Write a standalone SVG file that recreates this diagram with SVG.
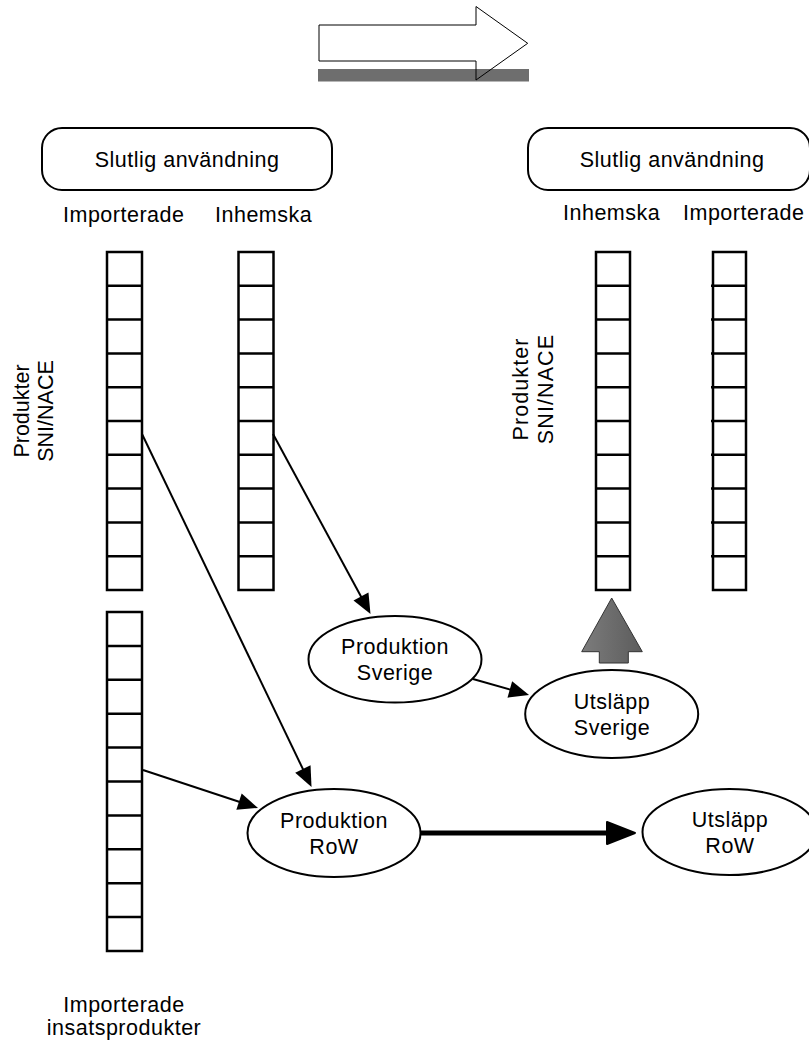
<svg xmlns="http://www.w3.org/2000/svg" width="809" height="1043" viewBox="0 0 809 1043">
<style>
text{font-family:"Liberation Sans",Arial,sans-serif;font-size:21.5px;letter-spacing:0.5px;fill:#000}
.mid{text-anchor:middle}
.col rect{fill:#fff;stroke:#000;stroke-width:2.5}
.col line{stroke:#000;stroke-width:2.5}
.box{fill:#fff;stroke:#000;stroke-width:2}
.ell{fill:#fff;stroke:#000;stroke-width:2}
.conn{stroke:#000;stroke-width:2;fill:none}
</style>
<defs>
<marker id="ah" markerUnits="userSpaceOnUse" markerWidth="22" markerHeight="19" refX="16" refY="8.5" orient="auto" overflow="visible">
<path d="M0,0 L20,8.5 L0,17 Z" fill="#000"/>
</marker>
<marker id="ahThick" markerUnits="userSpaceOnUse" markerWidth="30" markerHeight="24" refX="18" refY="11" orient="auto" overflow="visible">
<path d="M0,0 L28,11 L0,22 Z" fill="#000" stroke="#000" stroke-width="2" stroke-linejoin="round"/>
</marker>
<linearGradient id="grey" x1="0" y1="0" x2="1" y2="0">
<stop offset="0" stop-color="#7c7c7c"/>
<stop offset="1" stop-color="#5c5c5c"/>
</linearGradient>
</defs>

<g id="top-arrow">
<rect x="318" y="69" width="211" height="12.5" fill="#6e6e6e"/>
<path d="M319,25 L476,25 L476,6.5 L527.7,43.3 L476,80 L476,61 L319,61 Z" fill="none" stroke="#000" stroke-width="1"/>
</g>

<g id="slutlig-left">
<rect class="box" x="42" y="128" width="290" height="62" rx="20" ry="20"/>
<text class="mid" x="187" y="167">Slutlig användning</text>
</g>
<g id="slutlig-right">
<rect class="box" x="528" y="128" width="282" height="62" rx="20" ry="20"/>
<text class="mid" x="672" y="167">Slutlig användning</text>
</g>

<g id="labels">
<text x="63" y="222">Importerade</text>
<text x="215" y="222">Inhemska</text>
<text x="563" y="220">Inhemska</text>
<text x="683" y="220">Importerade</text>
<text class="mid" transform="translate(28.5,411) rotate(-90)" style="letter-spacing:0">Produkter</text>
<text class="mid" transform="translate(53,411) rotate(-90)" style="letter-spacing:0">SNI/NACE</text>
<text class="mid" transform="translate(528,389) rotate(-90)" style="letter-spacing:1.1px">Produkter</text>
<text class="mid" transform="translate(553,389) rotate(-90)" style="letter-spacing:1.1px">SNI/NACE</text>
<text class="mid" x="124" y="1012">Importerade</text>
<text class="mid" x="124" y="1035">insatsprodukter</text>
</g>

<g id="col-imp-left" class="col">
<rect x="107" y="252" width="35" height="338"/>
<line x1="107" y1="285.8" x2="142" y2="285.8"/><line x1="107" y1="319.6" x2="142" y2="319.6"/><line x1="107" y1="353.4" x2="142" y2="353.4"/><line x1="107" y1="387.2" x2="142" y2="387.2"/><line x1="107" y1="421" x2="142" y2="421"/><line x1="107" y1="454.8" x2="142" y2="454.8"/><line x1="107" y1="488.6" x2="142" y2="488.6"/><line x1="107" y1="522.4" x2="142" y2="522.4"/><line x1="107" y1="556.2" x2="142" y2="556.2"/>
</g>
<g id="col-inh-left" class="col">
<rect x="238.5" y="252" width="35" height="338"/>
<line x1="238.5" y1="285.8" x2="273.5" y2="285.8"/><line x1="238.5" y1="319.6" x2="273.5" y2="319.6"/><line x1="238.5" y1="353.4" x2="273.5" y2="353.4"/><line x1="238.5" y1="387.2" x2="273.5" y2="387.2"/><line x1="238.5" y1="421" x2="273.5" y2="421"/><line x1="238.5" y1="454.8" x2="273.5" y2="454.8"/><line x1="238.5" y1="488.6" x2="273.5" y2="488.6"/><line x1="238.5" y1="522.4" x2="273.5" y2="522.4"/><line x1="238.5" y1="556.2" x2="273.5" y2="556.2"/>
</g>
<g id="col-insats" class="col">
<rect x="107" y="612" width="35" height="339"/>
<line x1="107" y1="645.9" x2="142" y2="645.9"/><line x1="107" y1="679.8" x2="142" y2="679.8"/><line x1="107" y1="713.7" x2="142" y2="713.7"/><line x1="107" y1="747.6" x2="142" y2="747.6"/><line x1="107" y1="781.5" x2="142" y2="781.5"/><line x1="107" y1="815.4" x2="142" y2="815.4"/><line x1="107" y1="849.3" x2="142" y2="849.3"/><line x1="107" y1="883.2" x2="142" y2="883.2"/><line x1="107" y1="917.1" x2="142" y2="917.1"/>
</g>
<g id="col-inh-right" class="col">
<rect x="596" y="252" width="34" height="338"/>
<line x1="596" y1="285.8" x2="630" y2="285.8"/><line x1="596" y1="319.6" x2="630" y2="319.6"/><line x1="596" y1="353.4" x2="630" y2="353.4"/><line x1="596" y1="387.2" x2="630" y2="387.2"/><line x1="596" y1="421" x2="630" y2="421"/><line x1="596" y1="454.8" x2="630" y2="454.8"/><line x1="596" y1="488.6" x2="630" y2="488.6"/><line x1="596" y1="522.4" x2="630" y2="522.4"/><line x1="596" y1="556.2" x2="630" y2="556.2"/>
</g>
<g id="col-imp-right" class="col">
<rect x="713" y="252" width="33" height="338"/>
<line x1="711" y1="285.8" x2="746" y2="285.8"/><line x1="711" y1="319.6" x2="746" y2="319.6"/><line x1="711" y1="353.4" x2="746" y2="353.4"/><line x1="711" y1="387.2" x2="746" y2="387.2"/><line x1="711" y1="421" x2="746" y2="421"/><line x1="711" y1="454.8" x2="746" y2="454.8"/><line x1="711" y1="488.6" x2="746" y2="488.6"/><line x1="711" y1="522.4" x2="746" y2="522.4"/><line x1="711" y1="556.2" x2="746" y2="556.2"/>
</g>

<g id="grey-arrow">
<path d="M611.7,598 L642.3,651.7 L628.3,651.7 L628.3,663 L599.3,663 L599.3,651.7 L581.7,651.7 Z" fill="url(#grey)" stroke="#333" stroke-width="1"/>
</g>

<g id="prod-sverige">
<ellipse class="ell" cx="395" cy="659.3" rx="86.5" ry="43.3"/>
<text class="mid" x="395" y="654">Produktion</text>
<text class="mid" x="395" y="680">Sverige</text>
</g>
<g id="utslapp-sverige">
<ellipse class="ell" cx="611.7" cy="714" rx="86.5" ry="44"/>
<text class="mid" x="612" y="709">Utsläpp</text>
<text class="mid" x="612" y="735">Sverige</text>
</g>
<g id="prod-row">
<ellipse class="ell" cx="334" cy="833" rx="86.5" ry="44"/>
<text class="mid" x="334" y="828">Produktion</text>
<text class="mid" x="334" y="854">RoW</text>
</g>
<g id="utslapp-row">
<ellipse class="ell" cx="729.5" cy="832" rx="87" ry="43"/>
<text class="mid" x="730" y="827">Utsläpp</text>
<text class="mid" x="730" y="853">RoW</text>
</g>

<g id="connectors">
<path class="conn" d="M273,434 L368.6,610.5" marker-end="url(#ah)"/>
<path class="conn" d="M142,434 L309.8,783.4" marker-end="url(#ah)"/>
<path class="conn" d="M143,770 L254.2,806.7" marker-end="url(#ah)"/>
<path class="conn" d="M473,679 L525.2,693.9" marker-end="url(#ah)"/>
<path class="conn" d="M420,833 L625,833" style="stroke-width:5" marker-end="url(#ahThick)"/>
</g>
</svg>
